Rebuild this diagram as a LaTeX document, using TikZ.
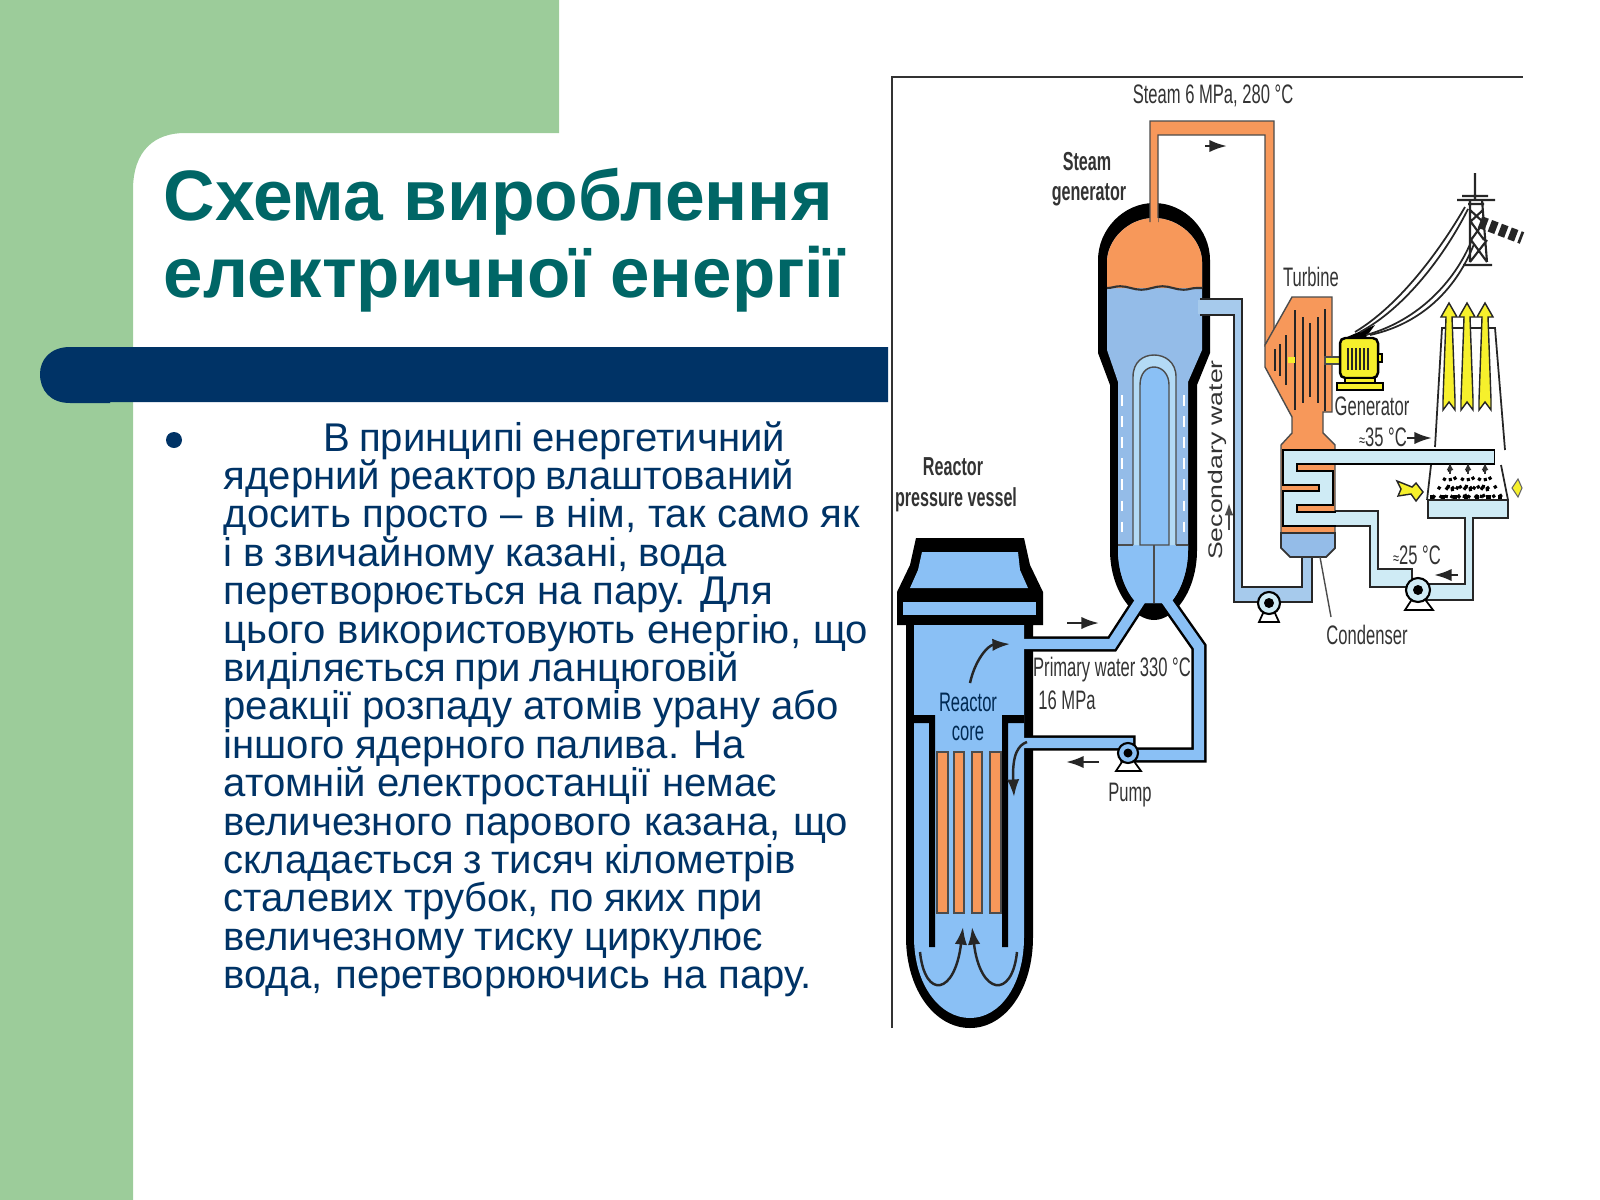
\documentclass[tikz,border=0pt]{standalone}
\usepackage{fontspec}
\setmainfont{Liberation Sans}
\newfontfamily\figfont[FakeStretch=0.62]{Liberation Sans}
\newfontfamily\figwide[FakeStretch=1.35]{Liberation Sans}
\usetikzlibrary{arrows.meta,decorations.pathmorphing}

\definecolor{slidegreen}{HTML}{9CCC9A}
\definecolor{slidenavy}{HTML}{003366}
\definecolor{titleteal}{HTML}{006666}
\definecolor{primaryblue}{HTML}{8AC0F5}
\definecolor{tankblue}{HTML}{94BCE8}
\definecolor{paleblue}{HTML}{CFEBF5}
\definecolor{steamorange}{HTML}{F7985A}
\definecolor{genyellow}{HTML}{F6F02C}

\tikzset{
  figlabel/.style={font=\figfont\fontsize{7.6pt}{9pt}\selectfont, text=black!80, inner sep=0pt},
  figbold/.style={figlabel, font=\figfont\bfseries\fontsize{7.4pt}{9pt}\selectfont},
  flowarrow/.style={-{Latex[length=5pt,width=3.5pt]}, line width=0.7pt, black!85},
  casing/.style={line width=4.3pt, black, line join=miter},
  bodyline/.style={anchor=base west, inner sep=0pt, text=slidenavy, font=\fontsize{11.4pt}{11pt}\selectfont},
  titleline/.style={anchor=base west, inner sep=0pt, text=titleteal, font=\bfseries\fontsize{20.3pt}{22pt}\selectfont},
  pumpfoot/.style={fill=white, draw=black, line width=0.5pt},
}

\begin{document}
\begin{tikzpicture}[x=0.01cm, y=-0.01cm]
  \useasboundingbox (0,0) rectangle (1600,1200);

  % Slide background
  \fill[slidegreen] (0,0) -- (559,0) -- (559,133) -- (185,133)
    .. controls (155,133) and (133,150) .. (133,190) -- (133,1200) -- (0,1200) -- cycle;
  \fill[slidenavy] (888,347) -- (70,347) .. controls (50,347) and (40,360) .. (40,374)
    .. controls (40,390) and (50,403) .. (70,403) -- (110,403) -- (110,402) -- (888,402) -- cycle;

  % Slide text
  \node[titleline] (title_1) at (163,220) {Схема вироблення};
  \node[titleline, font=\bfseries\fontsize{20.15pt}{22pt}\selectfont] (title_2) at (163,297) {електричної енергії};
  \fill[slidenavy] (174,440) circle (8);
  \node[bodyline] (body_0) at (323,451) {\makebox[4.61cm][s]{В принципі енергетичний}};
  \foreach \w/\t [count=\i] in {5.70/ядерний реактор влаштований,
      6.36/{досить просто – в нім, так само як},
      5.03/{і в звичайному казані, вода},
      5.49/перетворюється на пару. Для,
      6.44/{цього використовують енергію, що},
      5.15/виділяється при ланцюговій,
      6.15/реакції розпаду атомів урану або,
      5.21/іншого ядерного палива. На,
      5.53/атомній електростанції немає,
      6.24/{величезного парового казана, що},
      5.72/складається з тисяч кілометрів,
      5.39/{сталевих трубок, по яких при},
      5.39/величезному тиску циркулює,
      5.88/{вода, перетворюючись на пару.}}
    \node[bodyline] (body_\i) at (223,{451+38.4*\i}) {\makebox[\w cm][s]{\t}};

  % Frame of the figure
  \draw[black!80, line width=0.6pt] (892,1028) -- (892,77) -- (1523,77);

  % Steam generator shell and primary pipes
  \fill[black] (1154,203) .. controls (1185,203) and (1210,230) .. (1210,260) -- (1210,353)
    -- (1197,385) -- (1197,550) .. controls (1197,590) and (1175,620) .. (1154,620)
    .. controls (1133,620) and (1110,590) .. (1110,550) -- (1110,385) -- (1098,353)
    -- (1098,260) .. controls (1098,230) and (1123,203) .. (1154,203) -- cycle;
  \draw[casing] (1024,644) -- (1112,644) -- (1142,598);
  \draw[casing] (1024,743) -- (1128,743) -- (1128,755) -- (1199,755) -- (1199,647) -- (1166,600);

  % Reactor vessel
  \fill[black] (916,538) -- (1024,538) -- (1030,565) -- (1043,592) -- (1043,625) -- (1033,625)
    -- (1033,937) .. controls (1033,990) and (1005,1028) .. (970,1028)
    .. controls (935,1028) and (906,990) .. (906,937) -- (906,625) -- (897,625) -- (897,592)
    -- (910,565) -- cycle;
  \fill[primaryblue] (922,552) -- (1018,552) -- (1020,570) -- (1028,588) -- (910,588)
    -- (918,570) -- cycle;
  \fill[primaryblue] (903,602) rectangle (1036,615);
  \fill[primaryblue] (914,625) -- (1024,625) -- (1024,937)
    .. controls (1024,985) and (1000,1018) .. (970,1018)
    .. controls (940,1018) and (914,985) .. (914,937) -- cycle;

  % Core barrel and fuel rods
  \fill[black] (914,715) -- (935,715) -- (935,947) -- (929,947) -- (929,723) -- (914,723) -- cycle;
  \fill[black] (1024,715) -- (1002,715) -- (1002,947) -- (1008,947) -- (1008,723) -- (1024,723) -- cycle;
  \foreach \xa/\xb in {937/948, 954/964, 972/982, 990/1001}
    \draw[fill=steamorange, draw=black!70, line width=0.4pt] (\xa,752) rectangle (\xb,913);

  % Steam generator inside
  \fill[tankblue] (1154,218) .. controls (1180,218) and (1202,240) .. (1202,262) -- (1202,350)
    -- (1188,382) -- (1188,550) .. controls (1188,575) and (1178,595) .. (1170,603) -- (1137,603)
    .. controls (1128,595) and (1118,575) .. (1118,550) -- (1118,382) -- (1107,350) -- (1107,262)
    .. controls (1107,240) and (1128,218) .. (1154,218) -- cycle;
  \fill[steamorange] (1107,288) -- (1107,262) .. controls (1107,240) and (1128,218) .. (1154,218)
    .. controls (1180,218) and (1202,240) .. (1202,262) -- (1202,288) -- cycle;
  \draw[black!80, line width=0.6pt, decorate, decoration={snake, amplitude=0.5pt, segment length=12pt}]
    (1107,288) -- (1202,288);
  \fill[primaryblue] (1118,545) -- (1188,545) -- (1188,550) .. controls (1188,575) and (1178,595) .. (1170,603)
    -- (1137,603) .. controls (1128,595) and (1118,575) .. (1118,550) -- cycle;
  \draw[fill=paleblue!60!primaryblue, draw=black!70, line width=0.4pt] (1133,545) -- (1133,377)
    .. controls (1133,362) and (1143,355) .. (1154,355) .. controls (1165,355) and (1176,362) .. (1176,377)
    -- (1176,545);
  \draw[fill=primaryblue, draw=black!70, line width=0.4pt] (1140,545) -- (1140,385)
    .. controls (1140,374) and (1146,367) .. (1154,367) .. controls (1162,367) and (1169,374) .. (1169,385)
    -- (1169,545) -- cycle;
  \draw[black!70, line width=0.5pt] (1118,545) -- (1133,545) (1176,545) -- (1188,545) (1154,545) -- (1154,603);
  \draw[white, line width=0.3pt, dashed] (1122,395) -- (1122,540) (1184,395) -- (1184,540);

  % Steam pipe
  \draw[fill=steamorange, draw=black!70, line width=0.3pt]
    (1150,222) -- (1150,121) -- (1274,121) -- (1274,330) -- (1265,345) -- (1265,135)
    -- (1158,135) -- (1158,222);
  \fill[steamorange] (1150.5,218) rectangle (1157.5,225);

  % Primary water in the pipes
  \draw[primaryblue, line width=2.9pt, line join=miter] (1018,644) -- (1112,644) -- (1142,598);
  \draw[primaryblue, line width=2.9pt, line join=miter] (1018,743) -- (1128,743) -- (1128,755)
    -- (1199,755) -- (1199,647) -- (1166,600);

  % Secondary water pipe
  \draw[fill=tankblue!70!paleblue, draw=black!85, line width=0.6pt]
    (1200,299) -- (1242,299) -- (1242,587) -- (1302,587) -- (1302,555) -- (1312,555) -- (1312,602)
    -- (1234,602) -- (1234,315) -- (1200,315);
  \fill[tankblue!70!paleblue] (1198,300) rectangle (1210,314);

  % Turbine and condenser
  \draw[fill=steamorange, draw=black!70, line width=0.4pt]
    (1292,297) -- (1332,297) -- (1332,412) -- (1323,412) -- (1323,433) -- (1335,445) -- (1335,535)
    -- (1281,535) -- (1281,445) -- (1292,433) -- (1292,417) -- (1265,367) -- (1265,345) -- cycle;
  \draw[fill=tankblue, draw=black!80, line width=0.5pt] (1281,533) -- (1335,533) -- (1335,548)
    -- (1326,557) -- (1290,557) -- (1281,548) -- cycle;
  \foreach \x/\h in {1275/11, 1280/16, 1286/25, 1295/50, 1303/43, 1310/37, 1318/43, 1325/51}
    \draw[black!85, line width=0.8pt] (\x,360-\h) -- (\x,360+\h);
  \fill[genyellow] (1288,357) rectangle (1295,363);
  \draw[fill=genyellow, draw=black!70, line width=0.3pt] (1325,357) rectangle (1340,364);

  % Cooling water
  \draw[fill=paleblue, draw=black!85, line width=0.6pt]
    (1335,511) -- (1378,511) -- (1378,569) -- (1412,569) -- (1412,587) -- (1370,587) -- (1370,526) -- (1335,526);
  \draw[fill=paleblue, draw=black!85, line width=0.6pt]
    (1420,584) -- (1465,584) -- (1465,516) -- (1473,516) -- (1473,600) -- (1420,600) -- cycle;
  \draw[casing] (1495,457) -- (1290,457) -- (1290,478) -- (1326,478) -- (1326,498) -- (1290,498) -- (1290,519) -- (1336,519);
  \draw[paleblue, line width=3.5pt, line join=miter] (1494,457) -- (1290,457) -- (1290,478) -- (1326,478)
    -- (1326,498) -- (1290,498) -- (1290,519) -- (1345,519);

  % Cooling tower
  \draw[black!85, line width=0.5pt] (1435,447) -- (1442,328) -- (1495,328) -- (1505,450);
  \draw[black!85, line width=0.5pt] (1431,465) -- (1427,500) (1501,465) -- (1508,500);
  \draw[fill=paleblue, draw=black!85, line width=0.7pt] (1428,500) rectangle (1508,518);
  \fill[paleblue] (1466,516) rectangle (1472,520);
  \foreach \x in {1450,1468,1485} {
    \draw[black, line width=0.9pt, dotted] (\x-17,498) -- (\x,470) -- (\x+17,498);
    \draw[black, line width=0.9pt, dotted] (\x-10,498) -- (\x,484) -- (\x+10,498);
    \draw[black, line width=0.9pt, dotted] (\x-4,498) -- (\x,478) -- (\x+4,498);
    \draw[black!80, line width=0.4pt, -{Latex[length=2pt,width=2pt]}] (\x,474) -- (\x,463);
  }
  \draw[black, line width=1.2pt, dotted] (1430,497) -- (1506,497);
  \foreach \x in {1449,1467,1485}
    \draw[fill=genyellow, draw=black!85, line width=0.4pt] (\x,303) -- (\x+8,317) -- (\x+3,317)
      -- (\x+6,400) -- (\x+6,410) -- (\x,402) -- (\x-6,410) -- (\x-6,400) -- (\x-3,317) -- (\x-8,317) -- cycle;
  \draw[fill=genyellow, draw=black!85, line width=0.4pt] (1397,481) -- (1412,487) -- (1416,483) -- (1423,492)
    -- (1416,501) -- (1411,494) -- (1398,496) -- (1401,489) -- cycle;
  \draw[fill=genyellow, draw=black!60, line width=0.3pt] (1512,488) -- (1518,479) -- (1522,488) -- (1518,497) -- cycle;

  % Pumps
  \draw[pumpfoot] (1259,622) -- (1269,600) -- (1279,622) -- cycle;
  \draw[fill=paleblue, draw=black, line width=0.6pt] (1269,603) circle (11);
  \fill[black] (1269,603) circle (5);
  \draw[pumpfoot] (1405,610) -- (1418,590) -- (1433,610) -- cycle;
  \draw[fill=paleblue, draw=black, line width=0.6pt] (1418,590) circle (12);
  \fill[black] (1418,590) circle (5);
  \draw[pumpfoot] (1116,771) -- (1128,753) -- (1141,771) -- cycle;
  \draw[fill=primaryblue, draw=black, line width=0.6pt] (1128,753) circle (10);
  \fill[black] (1128,753) circle (4.5);

  % Generator
  \draw[fill=genyellow, draw=black, line width=0.7pt, rounded corners=1.5pt] (1340,338) rectangle (1378,378);
  \draw[fill=genyellow, draw=black, line width=0.7pt] (1337,383) rectangle (1383,390);
  \draw[fill=genyellow, draw=black, line width=0.5pt] (1345,378) rectangle (1375,383);
  \draw[fill=genyellow, draw=black, line width=0.4pt] (1378,354) rectangle (1382,362);
  \foreach \x in {1348,1352,...,1370}
    \draw[black!85, line width=0.5pt] (\x,348) -- (\x,370);
  \fill[black] (1347,337) -- (1366,337) -- (1375,325) -- cycle;

  % Power lines and pylon
  \draw[black!85, line width=0.5pt] (1355,332) .. controls (1400,305) and (1440,250) .. (1465,207);
  \draw[black!85, line width=0.5pt] (1360,332) .. controls (1405,308) and (1445,255) .. (1468,209);
  \draw[black!85, line width=0.5pt] (1366,335) .. controls (1420,320) and (1455,280) .. (1471,242);
  \draw[black!85, line width=0.5pt] (1370,335) .. controls (1425,323) and (1458,285) .. (1474,244);
  \draw[black!85, line width=0.6pt] (1475,173) -- (1475,200) (1457,200) -- (1495,200)
    (1462,196) -- (1488,196) (1468,204) -- (1484,204) (1470,200) -- (1470,262) (1482,200) -- (1487,262)
    (1470,262) -- (1487,240) (1471,240) -- (1487,262) (1471,222) -- (1484,240) (1484,222) -- (1471,240)
    (1470,210) -- (1483,222) (1483,210) -- (1470,222) (1463,265) -- (1492,265);
  \draw[black!85, line width=3.5pt, dash pattern=on 2pt off 1pt] (1480,222) -- (1522,238);

  % Small arrows
  \draw[flowarrow] (1205,146) -- (1227,146);
  \draw[-{Latex[length=3.5pt,width=2.5pt]}, line width=0.5pt, black!70] (1229,530) -- (1229,503);
  \draw[flowarrow] (1067,623) -- (1099,623);
  \draw[flowarrow] (1099,762) -- (1066,762);
  \draw[flowarrow] (1407,438) -- (1432,438);
  \draw[flowarrow] (1458,575) -- (1434,575);
  \draw[flowarrow] (970,683) .. controls (975,660) and (988,645) .. (1010,644);
  \draw[flowarrow] (1027,742) .. controls (1018,745) and (1012,755) .. (1014,797);
  \draw[flowarrow] (920,952) .. controls (925,1000) and (955,995) .. (963,927);
  \draw[flowarrow] (1017,952) .. controls (1012,1000) and (980,995) .. (972,927);
  \draw[black!70, line width=0.4pt] (1320,557) -- (1331,617);

  % Labels
  \node[figlabel] (steam_label) at (1213,96) {Steam 6 MPa, 280 °C};
  \node[figbold] (sg_label_1) at (1087,162) {Steam};
  \node[figbold] (sg_label_2) at (1089,195) {generator};
  \node[figbold] (rpv_label_1) at (953,467) {Reactor};
  \node[figbold] (rpv_label_2) at (956,500) {pressure vessel};
  \node[figlabel, font=\figwide\fontsize{5.6pt}{7pt}\selectfont, rotate=90] (secondary_label) at (1217,460) {Secondary water};
  \node[figlabel] (turbine_label) at (1311,277) {Turbine};
  \node[figlabel] (generator_label) at (1372,406) {Generator};
  \node[figlabel] (warm_label) at (1383,437) {{\fontsize{5pt}{5pt}\selectfont ≈}35 °C};
  \node[figlabel] (cold_label) at (1417,555) {{\fontsize{5pt}{5pt}\selectfont ≈}25 °C};
  \node[figlabel] (condenser_label) at (1367,635) {Condenser};
  \node[figlabel] (primary_label) at (1112,670) {Primary water 330 °C};
  \node[figlabel] (pressure_label) at (1067,700) {16 MPa};
  \node[figlabel] (pump_label) at (1130,795) {Pump};
  \node[figlabel, text=slidenavy!80!black] (core_label_1) at (968,702) {Reactor};
  \node[figlabel, text=slidenavy!80!black] (core_label_2) at (968,733) {core};
\end{tikzpicture}
\end{document}
